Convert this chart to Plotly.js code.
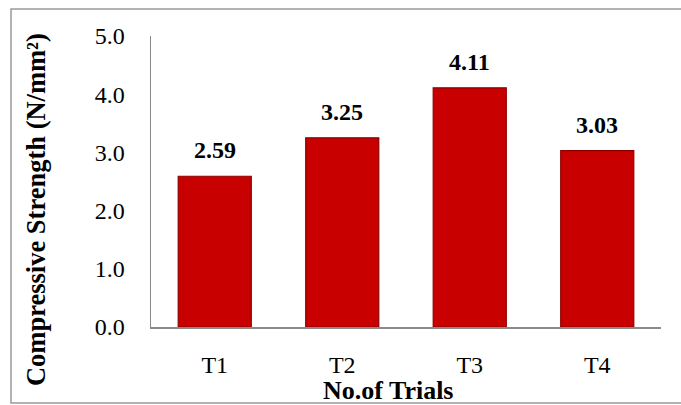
<!DOCTYPE html>
<html>
<head>
<meta charset="utf-8">
<script src="https://cdn.plot.ly/plotly-3.0.1.min.js"></script>
<style>html,body{margin:0;padding:0;background:#fff;}#chart{width:681px;height:405px;}</style>
</head>
<body>
<div id="chart"></div>
<script>
const categories = ["T1", "T2", "T3", "T4"];
const strength = [2.59, 3.25, 4.11, 3.03];
const labels = ["2.59", "3.25", "4.11", "3.03"];
const yTickVals = [0, 1, 2, 3, 4, 5];
const yTickText = ["0.0", "1.0", "2.0", "3.0", "4.0", "5.0"];

const FONT = "'Liberation Serif', 'Times New Roman', Times, serif";

const trace = {
  type: "bar",
  x: categories,
  y: strength,
  marker: { color: "#C80000", line: { color: "#8E0000", width: 1.2 } },
  hoverinfo: "skip"
};

const annotations = categories.map((c, i) => ({
  x: c, y: strength[i], xref: "x", yref: "y",
  text: "<b>" + labels[i] + "</b>",
  showarrow: false, yanchor: "bottom", xanchor: "center", yshift: 11,
  font: { family: FONT, size: 24, color: "#000" }
}));

annotations.push({
  xref: "paper", yref: "paper", x: 0, y: 0.402, xshift: -115,
  xanchor: "center", yanchor: "middle", textangle: -90, showarrow: false,
  text: "<b>Compressive Strength (N/mm²)</b>",
  font: { family: FONT, size: 26.5, color: "#000" }
});
annotations.push({
  xref: "paper", yref: "paper", x: 0.465, y: -0.2165,
  xanchor: "center", yanchor: "middle", showarrow: false, borderpad: 0,
  text: "<b>No.of Trials</b>",
  font: { family: FONT, size: 26, color: "#000" }
});

const layout = {
  width: 681, height: 405,
  margin: { l: 151, r: 20, t: 36, b: 78 },
  paper_bgcolor: "#fff", plot_bgcolor: "#fff",
  showlegend: false,
  bargap: 0.427,
  font: { family: FONT, size: 24, color: "#000" },
  xaxis: {
    type: "category", range: [-0.5, 3.5],
    showline: true, linecolor: "#8a8a8a", linewidth: 1.5,
    showgrid: false, zeroline: false, ticks: "",
    ticklabelstandoff: 16,
    tickfont: { family: FONT, size: 24, color: "#000" }
  },
  yaxis: {
    range: [0, 5], tickvals: yTickVals, ticktext: yTickText,
    showline: true, linecolor: "#8a8a8a", linewidth: 1.5,
    showgrid: false, zeroline: false, ticks: "",
    ticklabelstandoff: 20,
    tickfont: { family: FONT, size: 24, color: "#000" }
  },
  annotations: annotations,
  shapes: [{
    type: "rect", xref: "paper", yref: "paper",
    x0: -0.2745, x1: 1.06, y0: -0.261, y1: 1.0928,
    line: { color: "#9a9a9a", width: 1.5 }, fillcolor: "rgba(0,0,0,0)"
  }]
};

Plotly.newPlot("chart", [trace], layout, { displayModeBar: false, staticPlot: true });
</script>
</body>
</html>
